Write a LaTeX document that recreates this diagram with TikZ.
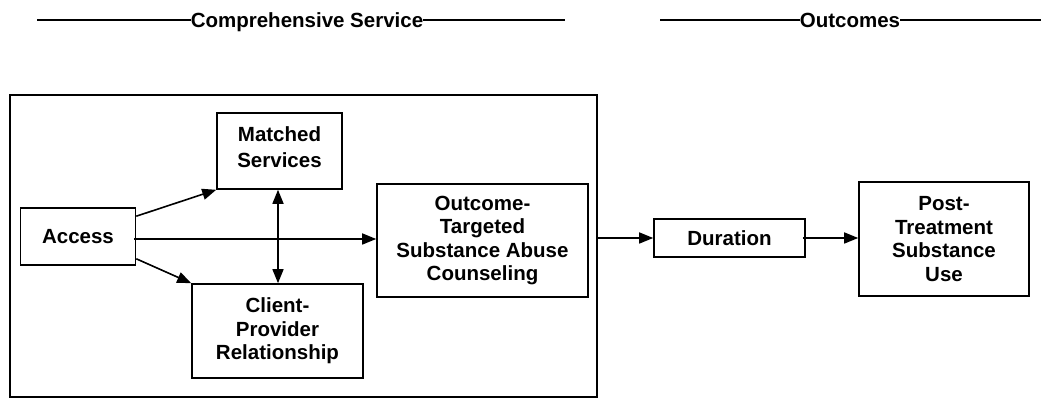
\documentclass[tikz,border=0pt]{standalone}
\usepackage{fontspec}
\setmainfont{Liberation Sans}
\usepackage{tikz}
\usetikzlibrary{arrows.meta,positioning,calc}

\begin{document}
\begin{tikzpicture}[
    x=1pt, y=1pt,
    >={Triangle[length=14pt,width=11pt]},
    box/.style={draw, line width=1.6pt, align=center,
                font=\fontsize{20.5}{23.5}\selectfont\bfseries,
                inner sep=2pt},
    hdr/.style={font=\fontsize{20.5}{23.5}\selectfont\bfseries,
                inner sep=0pt, text depth=0pt},
    rule/.style={line width=2.6pt},
    arr/.style={->, line width=1.6pt},
  ]
  \useasboundingbox (0,0) rectangle (1050,404);

  % Headings
  \node[hdr] (hcomp) at (307,384) {Comprehensive Service};
  \draw[rule] (37,384) coordinate (hcompl) -- (hcomp.west);
  \draw[rule] (hcomp.east) -- (565,384) coordinate (hcompr);
  \node[hdr] (hout) at (850,384) {Outcomes};
  \draw[rule] (660,384) coordinate (houtl) -- (hout.west);
  \draw[rule] (hout.east) -- (1041,384) coordinate (houtr);

  % Comprehensive service frame
  \node[box, minimum width=587pt, minimum height=302pt] (comp) at (303.5,158) {};

  % Inside the frame
  \node[box, minimum width=115pt, minimum height=57pt] (access) at (78,167.5) {Access};
  \node[box, minimum width=125pt, minimum height=76pt] (matched) at (279.5,253)
    {Matched\\[2pt]Services\\[-15.5pt]};
  \node[box, minimum width=171pt, minimum height=94pt] (client) at (277.5,73)
    {Client-\\Provider\\Relationship};
  \node[box, minimum width=211pt, minimum height=113pt] (otsac) at (482.5,163.5)
    {Outcome-\\Targeted\\Substance Abuse\\Counseling};

  % Outcomes
  \node[box, minimum width=151pt, minimum height=38pt] (duration) at (729.5,166) {Duration};
  \node[box, minimum width=170pt, minimum height=114pt] (post) at (944,165)
    {Post-\\Treatment\\Substance\\Use};

  % Connector end points
  \coordinate (acc-up)  at ($(access.north east)+(0,-9)$);
  \coordinate (acc-mid) at ($(access.east)+(-2,-2.5)$);
  \coordinate (acc-low) at ($(access.south east)+(0,7)$);
  \coordinate (ms-foot) at ($(matched.south)+(-1.5,0)$);
  \coordinate (dur-out) at ($(duration.east)+(-3,0)$);

  % Connectors
  \draw[arr] (acc-up) -- (matched.south west);
  \draw[arr] (acc-mid) -- (acc-mid -| otsac.west);
  \draw[arr] (acc-low) -- (client.north west);
  \draw[arr, <->] (ms-foot) -- (ms-foot |- client.north);
  \draw[arr] (comp.east |- duration.west) -- (duration.west);
  \draw[arr] (dur-out) -- (dur-out -| post.west);
\end{tikzpicture}
\end{document}
